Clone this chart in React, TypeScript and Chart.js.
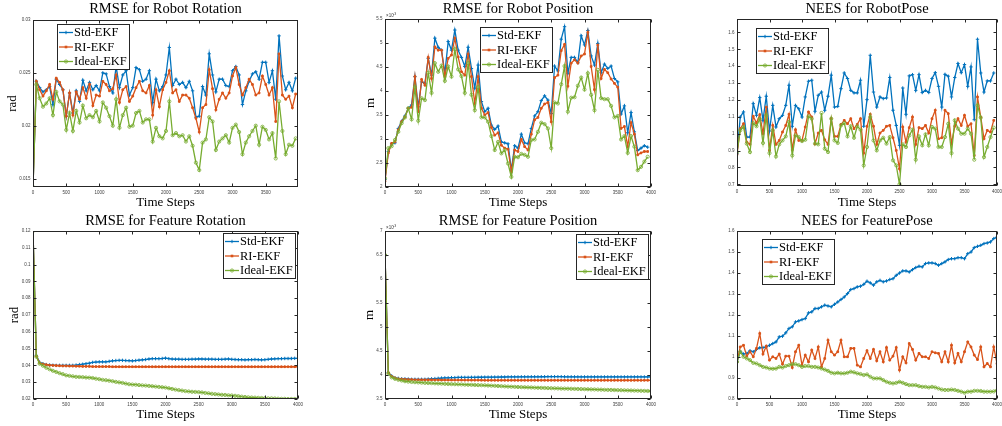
import React, { useEffect, useRef } from 'react';
import { Chart, registerables } from 'chart.js';

Chart.register(...registerables);

// ---------- data ----------
const STEPS = [
  0, 50, 100, 150, 200, 250, 300, 350, 400, 450,
  500, 550, 600, 650, 700, 750, 800, 850, 900, 950,
  1000, 1050, 1100, 1150, 1200, 1250, 1300, 1350, 1400, 1450,
  1500, 1550, 1600, 1650, 1700, 1750, 1800, 1850, 1900, 1950,
  2000, 2050, 2100, 2150, 2200, 2250, 2300, 2350, 2400, 2450,
  2500, 2550, 2600, 2650, 2700, 2750, 2800, 2850, 2900, 2950,
  3000, 3050, 3100, 3150, 3200, 3250, 3300, 3350, 3400, 3450,
  3500, 3550, 3600, 3650, 3700, 3750, 3800, 3850, 3900, 3950,
  4000,
];

const SERIES_NAMES = ['Std-EKF', 'RI-EKF', 'Ideal-EKF'];

const X_TICKS_3500 = [0, 500, 1000, 1500, 2000, 2500, 3000, 3500];
const X_TICKS_4000 = [0, 500, 1000, 1500, 2000, 2500, 3000, 3500, 4000];

const ROBOT_ROT_Y_TICKS = [0.015, 0.02, 0.025, 0.03];
const ROBOT_POS_Y_TICKS = [2, 2.5, 3, 3.5, 4, 4.5, 5, 5.5];
const ROBOT_NEES_Y_TICKS = [0.7, 0.8, 0.9, 1, 1.1, 1.2, 1.3, 1.4, 1.5, 1.6];
const FEAT_ROT_Y_TICKS = [0.02, 0.03, 0.04, 0.05, 0.06, 0.07, 0.08, 0.09, 0.1, 0.11, 0.12];
const FEAT_POS_Y_TICKS = [3.5, 4, 4.5, 5, 5.5, 6, 6.5, 7];
const FEAT_NEES_Y_TICKS = [0.8, 0.9, 1, 1.1, 1.2, 1.3, 1.4, 1.5, 1.6];

// RMSE for Robot Rotation (rad)
const ROBOT_ROT_STD = [
  0.0142, 0.0242, 0.0236, 0.0232, 0.0234, 0.0237, 0.0220, 0.0244, 0.0239, 0.0234,
  0.0209, 0.0231, 0.0212, 0.0233, 0.0223, 0.0243, 0.0233, 0.0241, 0.0234, 0.0238,
  0.0233, 0.0250, 0.0249, 0.0237, 0.0231, 0.0256, 0.0236, 0.0248, 0.0252, 0.0229,
  0.0236, 0.0255, 0.0253, 0.0242, 0.0244, 0.0252, 0.0222, 0.0244, 0.0233, 0.0237,
  0.0248, 0.0274, 0.0238, 0.0244, 0.0239, 0.0241, 0.0236, 0.0242, 0.0233, 0.0208,
  0.0209, 0.0237, 0.0229, 0.0268, 0.0248, 0.0232, 0.0244, 0.0244, 0.0238, 0.0237,
  0.0252, 0.0256, 0.0248, 0.0220, 0.0233, 0.0242, 0.0249, 0.0251, 0.0244, 0.0260,
  0.0260, 0.0241, 0.0252, 0.0225, 0.0285, 0.0247, 0.0234, 0.0241, 0.0233, 0.0245,
];
const ROBOT_ROT_RI = [
  0.0142, 0.0242, 0.0234, 0.0228, 0.0233, 0.0239, 0.0225, 0.0245, 0.0241, 0.0234,
  0.0209, 0.0231, 0.0210, 0.0232, 0.0225, 0.0236, 0.0226, 0.0239, 0.0219, 0.0229,
  0.0228, 0.0242, 0.0239, 0.0233, 0.0235, 0.0248, 0.0222, 0.0234, 0.0237, 0.0223,
  0.0228, 0.0236, 0.0242, 0.0233, 0.0231, 0.0238, 0.0210, 0.0234, 0.0218, 0.0234,
  0.0241, 0.0252, 0.0231, 0.0234, 0.0223, 0.0229, 0.0229, 0.0226, 0.0217, 0.0207,
  0.0194, 0.0217, 0.0220, 0.0253, 0.0235, 0.0215, 0.0225, 0.0231, 0.0226, 0.0231,
  0.0247, 0.0255, 0.0239, 0.0229, 0.0236, 0.0244, 0.0239, 0.0229, 0.0231, 0.0247,
  0.0239, 0.0229, 0.0236, 0.0204, 0.0268, 0.0229, 0.0225, 0.0228, 0.0217, 0.0230,
];
const ROBOT_ROT_IDEAL = [
  0.0142, 0.0239, 0.0226, 0.0218, 0.0221, 0.0226, 0.0210, 0.0232, 0.0223, 0.0220,
  0.0196, 0.0212, 0.0195, 0.0214, 0.0203, 0.0219, 0.0207, 0.0210, 0.0208, 0.0214,
  0.0204, 0.0222, 0.0217, 0.0209, 0.0200, 0.0225, 0.0198, 0.0210, 0.0217, 0.0199,
  0.0200, 0.0212, 0.0214, 0.0203, 0.0206, 0.0206, 0.0185, 0.0198, 0.0190, 0.0188,
  0.0195, 0.0223, 0.0191, 0.0193, 0.0190, 0.0191, 0.0185, 0.0190, 0.0181, 0.0165,
  0.0158, 0.0184, 0.0187, 0.0208, 0.0204, 0.0177, 0.0185, 0.0188, 0.0191, 0.0184,
  0.0198, 0.0201, 0.0194, 0.0173, 0.0184, 0.0190, 0.0195, 0.0200, 0.0182, 0.0199,
  0.0196, 0.0187, 0.0193, 0.0169, 0.0223, 0.0195, 0.0173, 0.0182, 0.0181, 0.0188,
];

// RMSE for Robot Position (x10^-3 m)
const ROBOT_POS_STD = [
  2.16, 2.74, 2.90, 2.92, 3.22, 3.37, 3.48, 3.64, 3.71, 4.30,
  3.67, 4.19, 4.16, 4.68, 4.33, 5.10, 4.91, 4.85, 4.37, 5.03,
  4.85, 5.27, 4.85, 4.70, 4.51, 4.91, 4.47, 4.06, 4.54, 3.78,
  3.57, 3.64, 3.29, 3.20, 3.27, 2.94, 2.92, 2.90, 2.35, 2.86,
  2.81, 3.10, 2.92, 2.90, 3.22, 3.48, 3.57, 3.80, 3.90, 3.81,
  3.53, 4.52, 4.42, 5.08, 5.34, 4.37, 4.70, 4.70, 4.59, 5.15,
  4.96, 5.26, 4.73, 4.54, 4.99, 4.38, 4.56, 4.47, 4.52, 4.26,
  4.19, 3.52, 3.69, 3.13, 3.55, 3.15, 2.76, 2.81, 2.86, 2.83,
];
const ROBOT_POS_RI = [
  2.12, 2.71, 2.91, 2.94, 3.19, 3.36, 3.46, 3.64, 3.66, 4.30,
  3.57, 4.24, 4.12, 4.70, 4.26, 4.92, 4.85, 4.85, 4.30, 4.68,
  4.75, 5.10, 4.71, 4.40, 4.33, 4.77, 4.30, 3.74, 4.30, 3.64,
  3.50, 3.55, 3.24, 3.08, 3.13, 2.87, 2.81, 2.79, 2.32, 2.77,
  2.74, 2.99, 2.84, 2.77, 3.10, 3.40, 3.45, 3.64, 3.73, 3.76,
  3.36, 4.28, 4.33, 4.84, 4.97, 4.10, 4.58, 4.65, 4.58, 4.73,
  4.77, 5.22, 4.51, 4.03, 4.96, 4.26, 4.45, 4.38, 4.25, 4.16,
  4.08, 3.22, 3.26, 2.84, 3.34, 3.10, 2.67, 2.71, 2.74, 2.74,
];
const ROBOT_POS_IDEAL = [
  2.18, 2.81, 2.85, 2.98, 3.15, 3.33, 3.45, 3.64, 3.41, 4.08,
  3.38, 3.85, 3.81, 4.38, 3.96, 4.58, 4.40, 4.53, 4.21, 4.51,
  4.30, 4.87, 4.45, 4.31, 3.96, 4.58, 3.92, 3.60, 4.08, 3.45,
  3.45, 3.36, 3.06, 2.77, 2.94, 2.70, 2.77, 2.49, 2.21, 2.63,
  2.62, 2.69, 2.67, 2.63, 2.98, 2.99, 3.15, 3.34, 3.31, 3.22,
  2.81, 3.76, 3.74, 4.14, 4.52, 3.57, 3.86, 3.87, 4.11, 4.28,
  4.03, 4.37, 3.92, 3.60, 4.44, 3.85, 3.83, 3.83, 3.69, 3.45,
  3.48, 2.99, 3.06, 2.71, 3.06, 2.84, 2.35, 2.42, 2.53, 2.63,
];

// NEES for RobotPose
const ROBOT_NEES_STD = [
  0.881, 1.099, 1.129, 0.980, 0.980, 1.178, 1.109, 1.214, 1.079, 1.222,
  1.016, 1.168, 1.040, 1.089, 1.109, 1.168, 1.287, 1.044, 1.168, 1.148,
  1.099, 1.218, 1.311, 1.317, 1.133, 1.228, 1.247, 1.139, 1.222, 1.347,
  1.158, 1.162, 1.267, 1.360, 1.327, 1.257, 1.242, 1.242, 1.317, 1.044,
  1.202, 1.465, 1.247, 1.158, 1.218, 1.208, 1.212, 1.333, 1.139, 1.049,
  0.931, 1.271, 1.115, 1.343, 1.350, 1.257, 1.350, 1.244, 1.257, 1.244,
  1.327, 1.362, 1.281, 1.158, 1.352, 1.341, 1.218, 1.333, 1.416, 1.362,
  1.410, 1.281, 1.396, 1.083, 1.560, 1.360, 1.247, 1.313, 1.313, 1.360,
];
const ROBOT_NEES_RI = [
  0.877, 1.030, 1.059, 0.950, 0.937, 1.103, 1.063, 1.113, 1.000, 1.158,
  0.901, 1.049, 0.937, 0.960, 1.010, 1.049, 1.115, 0.905, 1.024, 0.960,
  0.960, 1.040, 1.129, 1.099, 0.941, 1.004, 1.020, 0.964, 0.937, 1.089,
  0.984, 0.984, 1.055, 1.079, 1.059, 1.089, 1.030, 1.055, 1.089, 0.885,
  1.044, 1.115, 1.044, 0.937, 1.004, 1.020, 1.044, 1.049, 0.976, 0.901,
  0.792, 1.040, 0.950, 1.036, 1.099, 0.937, 1.036, 1.030, 1.049, 1.004,
  1.089, 1.139, 0.970, 0.976, 1.139, 1.119, 0.941, 1.044, 1.089, 1.049,
  1.109, 1.044, 1.059, 0.871, 1.218, 1.099, 0.970, 1.020, 1.010, 1.079,
];
const ROBOT_NEES_IDEAL = [
  0.891, 1.020, 1.040, 0.941, 0.891, 1.063, 1.044, 1.089, 0.945, 1.109,
  0.885, 1.020, 0.865, 0.937, 0.960, 0.984, 1.069, 0.871, 0.990, 0.980,
  0.956, 0.964, 1.103, 1.089, 0.941, 0.937, 1.123, 0.911, 0.891, 1.089,
  0.960, 0.945, 1.049, 1.063, 0.984, 1.044, 0.976, 1.044, 1.024, 0.812,
  0.921, 1.099, 0.960, 0.901, 0.960, 0.976, 0.941, 0.980, 0.842, 0.812,
  0.700, 0.937, 0.921, 0.990, 1.024, 0.846, 0.984, 0.931, 0.996, 0.931,
  1.040, 1.030, 0.921, 0.921, 0.980, 1.059, 0.885, 1.079, 1.030, 1.000,
  1.000, 1.030, 1.000, 0.846, 1.168, 1.095, 0.861, 0.921, 0.980, 1.036,
];

// RMSE for Feature Rotation (rad)
const FEAT_ROT_STD = [
  0.1200, 0.0460, 0.0418, 0.0410, 0.0405, 0.0402, 0.0401, 0.0400, 0.0400, 0.0400,
  0.0400, 0.0400, 0.0400, 0.0402, 0.0405, 0.0407, 0.0410, 0.0413, 0.0418, 0.0420,
  0.0421, 0.0421, 0.0421, 0.0424, 0.0427, 0.0429, 0.0430, 0.0430, 0.0429, 0.0428,
  0.0427, 0.0429, 0.0431, 0.0433, 0.0435, 0.0438, 0.0440, 0.0440, 0.0440, 0.0441,
  0.0443, 0.0440, 0.0438, 0.0437, 0.0437, 0.0436, 0.0436, 0.0436, 0.0437, 0.0437,
  0.0438, 0.0438, 0.0437, 0.0437, 0.0437, 0.0436, 0.0436, 0.0436, 0.0437, 0.0438,
  0.0436, 0.0435, 0.0434, 0.0434, 0.0433, 0.0434, 0.0434, 0.0435, 0.0434, 0.0433,
  0.0434, 0.0436, 0.0438, 0.0439, 0.0440, 0.0440, 0.0441, 0.0441, 0.0441, 0.0442,
  0.0442,
];
const FEAT_ROT_RI = [
  0.1200, 0.0455, 0.0415, 0.0408, 0.0404, 0.0401, 0.0400, 0.0399, 0.0398, 0.0397,
  0.0397, 0.0396, 0.0396, 0.0395, 0.0395, 0.0394, 0.0394, 0.0394, 0.0393, 0.0393,
  0.0393, 0.0393, 0.0393, 0.0393, 0.0392, 0.0392, 0.0392, 0.0392, 0.0392, 0.0392,
  0.0392, 0.0392, 0.0392, 0.0392, 0.0392, 0.0392, 0.0392, 0.0392, 0.0392, 0.0392,
  0.0392, 0.0392, 0.0392, 0.0392, 0.0392, 0.0392, 0.0392, 0.0392, 0.0392, 0.0392,
  0.0392, 0.0392, 0.0392, 0.0392, 0.0392, 0.0392, 0.0392, 0.0392, 0.0392, 0.0392,
  0.0392, 0.0392, 0.0392, 0.0392, 0.0392, 0.0392, 0.0392, 0.0392, 0.0392, 0.0392,
  0.0392, 0.0392, 0.0392, 0.0392, 0.0392, 0.0392, 0.0392, 0.0392, 0.0392, 0.0392,
  0.0392,
];
const FEAT_ROT_IDEAL = [
  0.1200, 0.0452, 0.0410, 0.0398, 0.0386, 0.0377, 0.0368, 0.0361, 0.0354, 0.0348,
  0.0341, 0.0338, 0.0335, 0.0332, 0.0331, 0.0330, 0.0328, 0.0327, 0.0325, 0.0321,
  0.0318, 0.0314, 0.0312, 0.0309, 0.0306, 0.0302, 0.0299, 0.0296, 0.0292, 0.0288,
  0.0286, 0.0285, 0.0283, 0.0281, 0.0280, 0.0278, 0.0276, 0.0274, 0.0272, 0.0270,
  0.0268, 0.0264, 0.0260, 0.0256, 0.0253, 0.0250, 0.0247, 0.0245, 0.0243, 0.0242,
  0.0241, 0.0239, 0.0236, 0.0234, 0.0231, 0.0229, 0.0227, 0.0225, 0.0224, 0.0222,
  0.0221, 0.0219, 0.0217, 0.0214, 0.0212, 0.0210, 0.0209, 0.0208, 0.0207, 0.0206,
  0.0205, 0.0204, 0.0204, 0.0203, 0.0202, 0.0201, 0.0201, 0.0200, 0.0200, 0.0200,
  0.0201,
];

// RMSE for Feature Position (x10^-3 m)
const FEAT_POS_STD = [
  6.50, 4.05, 3.98, 3.94, 3.93, 3.92, 3.92, 3.915, 3.91, 3.91,
  3.91, 3.91, 3.91, 3.915, 3.92, 3.925, 3.93, 3.935, 3.94, 3.94,
  3.945, 3.945, 3.95, 3.95, 3.95, 3.95, 3.952, 3.952, 3.953, 3.953,
  3.955, 3.955, 3.955, 3.957, 3.957, 3.958, 3.958, 3.96, 3.96, 3.96,
  3.96, 3.962, 3.962, 3.962, 3.963, 3.963, 3.963, 3.964, 3.964, 3.965,
  3.965, 3.965, 3.965, 3.965, 3.963, 3.962, 3.962, 3.961, 3.961, 3.96,
  3.96, 3.96, 3.96, 3.96, 3.96, 3.96, 3.96, 3.96, 3.96, 3.96,
  3.96, 3.96, 3.96, 3.96, 3.96, 3.96, 3.96, 3.96, 3.96, 3.96,
  3.96,
];
const FEAT_POS_RI = [
  6.50, 4.05, 3.97, 3.94, 3.92, 3.915, 3.91, 3.905, 3.905, 3.90,
  3.90, 3.90, 3.90, 3.90, 3.90, 3.898, 3.898, 3.896, 3.896, 3.895,
  3.895, 3.895, 3.894, 3.894, 3.893, 3.893, 3.892, 3.892, 3.892, 3.891,
  3.89, 3.89, 3.89, 3.89, 3.89, 3.89, 3.89, 3.89, 3.89, 3.89,
  3.89, 3.89, 3.89, 3.89, 3.89, 3.89, 3.89, 3.89, 3.89, 3.89,
  3.89, 3.89, 3.89, 3.89, 3.89, 3.89, 3.89, 3.89, 3.89, 3.89,
  3.89, 3.89, 3.89, 3.89, 3.89, 3.89, 3.89, 3.89, 3.89, 3.89,
  3.89, 3.89, 3.89, 3.89, 3.89, 3.89, 3.89, 3.89, 3.89, 3.89,
  3.89,
];
const FEAT_POS_IDEAL = [
  6.50, 4.03, 3.95, 3.92, 3.90, 3.885, 3.87, 3.862, 3.855, 3.85,
  3.845, 3.84, 3.836, 3.833, 3.83, 3.826, 3.823, 3.82, 3.816, 3.813,
  3.81, 3.808, 3.806, 3.803, 3.80, 3.797, 3.795, 3.792, 3.789, 3.787,
  3.785, 3.781, 3.778, 3.775, 3.771, 3.767, 3.763, 3.759, 3.756, 3.753,
  3.75, 3.747, 3.745, 3.742, 3.74, 3.737, 3.734, 3.732, 3.73, 3.727,
  3.725, 3.723, 3.72, 3.718, 3.717, 3.715, 3.713, 3.711, 3.709, 3.707,
  3.705, 3.703, 3.70, 3.699, 3.697, 3.695, 3.692, 3.69, 3.689, 3.687,
  3.685, 3.683, 3.681, 3.679, 3.677, 3.675, 3.673, 3.671, 3.669, 3.667,
  3.665,
];

// NEES for FeaturePose
const FEAT_NEES_STD = [
  0.977, 1.025, 1.014, 1.017, 1.030, 1.025, 1.036, 1.044, 1.045, 1.048,
  1.056, 1.064, 1.072, 1.096, 1.099, 1.115, 1.136, 1.144, 1.167, 1.172,
  1.178, 1.183, 1.210, 1.215, 1.231, 1.231, 1.239, 1.247, 1.243, 1.239,
  1.251, 1.262, 1.274, 1.286, 1.302, 1.321, 1.326, 1.334, 1.337, 1.346,
  1.361, 1.353, 1.342, 1.358, 1.365, 1.358, 1.362, 1.369, 1.373, 1.389,
  1.400, 1.410, 1.410, 1.405, 1.416, 1.426, 1.432, 1.429, 1.445, 1.448,
  1.448, 1.445, 1.437, 1.445, 1.453, 1.464, 1.468, 1.468, 1.473, 1.473,
  1.468, 1.492, 1.500, 1.521, 1.527, 1.532, 1.540, 1.543, 1.548, 1.564,
  1.571,
];
const FEAT_NEES_RI = [
  0.977, 1.048, 1.056, 1.004, 1.025, 1.001, 1.041, 1.112, 1.014, 1.052,
  0.985, 1.001, 0.993, 1.014, 0.966, 1.004, 1.004, 0.950, 1.025, 1.056,
  0.961, 1.009, 0.977, 1.033, 0.993, 1.048, 0.953, 0.993, 1.080, 1.025,
  1.009, 1.025, 1.080, 1.001, 1.001, 1.041, 1.041, 0.961, 0.953, 0.993,
  1.030, 0.993, 1.036, 0.982, 1.025, 0.977, 1.045, 0.985, 1.004, 1.045,
  0.938, 1.001, 0.972, 1.064, 1.036, 0.985, 1.017, 1.001, 1.001, 0.993,
  1.025, 1.020, 1.017, 0.977, 1.025, 0.977, 1.056, 0.972, 1.017, 0.977,
  1.025, 1.072, 1.048, 1.009, 0.988, 1.048, 0.953, 0.969, 0.953, 1.048,
  0.969,
];
const FEAT_NEES_IDEAL = [
  0.977, 1.025, 1.001, 0.993, 0.985, 0.972, 0.969, 0.961, 0.953, 0.950,
  0.945, 0.944, 0.945, 0.953, 0.950, 0.957, 0.961, 0.966, 0.966, 0.961,
  0.953, 0.957, 0.957, 0.953, 0.953, 0.950, 0.945, 0.940, 0.934, 0.925,
  0.922, 0.925, 0.922, 0.922, 0.925, 0.930, 0.927, 0.922, 0.919, 0.914,
  0.917, 0.906, 0.898, 0.898, 0.898, 0.890, 0.882, 0.877, 0.874, 0.877,
  0.882, 0.877, 0.871, 0.866, 0.866, 0.866, 0.861, 0.858, 0.858, 0.855,
  0.858, 0.855, 0.850, 0.845, 0.843, 0.843, 0.845, 0.843, 0.839, 0.835,
  0.830, 0.835, 0.835, 0.839, 0.839, 0.838, 0.835, 0.835, 0.835, 0.836,
  0.841,
];

// ---------- styles / layout ----------
const COLORS = ['#0072BD', '#D95319', '#77AC30'];
const SERIF = '"Liberation Serif", "Times New Roman", serif';
const SANS = '"Liberation Sans", Arial, sans-serif';

type Box = { left: number; top: number; width: number; height: number };
type Area = { left: number; top: number; right: number; bottom: number };
type Panel = {
  title: string;
  yLabel: string;
  exponent: boolean;
  series: number[][];
  yMin: number;
  yMax: number;
  xMax: number;
  xTicks: number[];
  yTicks: number[];
  box: Box;
  area: Area;
  titleY: number;
  xLabelY: number;
  yLabelX: number;
  legend: { x: number; y: number };
};

const PANELS: Panel[] = [
  {
    title: 'RMSE for Robot Rotation', yLabel: 'rad', exponent: false,
    series: [ROBOT_ROT_STD, ROBOT_ROT_RI, ROBOT_ROT_IDEAL],
    yMin: 0.0142, yMax: 0.03, xMax: 3985, xTicks: X_TICKS_3500, yTicks: ROBOT_ROT_Y_TICKS,
    box: { left: 0, top: 0, width: 330, height: 210 },
    area: { left: 33, top: 20, right: 298, bottom: 187 },
    titleY: 9.5, xLabelY: 202.5, yLabelX: 13, legend: { x: 57, y: 24 },
  },
  {
    title: 'RMSE for Robot Position', yLabel: 'm', exponent: true,
    series: [ROBOT_POS_STD, ROBOT_POS_RI, ROBOT_POS_IDEAL],
    yMin: 2, yMax: 5.5, xMax: 4000, xTicks: X_TICKS_4000, yTicks: ROBOT_POS_Y_TICKS,
    box: { left: 335, top: 0, width: 330, height: 210 },
    area: { left: 385, top: 19, right: 651, bottom: 187 },
    titleY: 9.5, xLabelY: 202.5, yLabelX: 370.5, legend: { x: 480, y: 27 },
  },
  {
    title: 'NEES for RobotPose', yLabel: '', exponent: false,
    series: [ROBOT_NEES_STD, ROBOT_NEES_RI, ROBOT_NEES_IDEAL],
    yMin: 0.69, yMax: 1.68, xMax: 4000, xTicks: X_TICKS_4000, yTicks: ROBOT_NEES_Y_TICKS,
    box: { left: 670, top: 0, width: 332, height: 210 },
    area: { left: 737, top: 19, right: 1001, bottom: 186 },
    titleY: 9.5, xLabelY: 202.5, yLabelX: 0, legend: { x: 756, y: 28 },
  },
  {
    title: 'RMSE for Feature Rotation', yLabel: 'rad', exponent: false,
    series: [FEAT_ROT_STD, FEAT_ROT_RI, FEAT_ROT_IDEAL],
    yMin: 0.02, yMax: 0.12, xMax: 4000, xTicks: X_TICKS_4000, yTicks: FEAT_ROT_Y_TICKS,
    box: { left: 0, top: 210, width: 330, height: 216 },
    area: { left: 33, top: 231, right: 298, bottom: 399 },
    titleY: 221.5, xLabelY: 415, yLabelX: 15, legend: { x: 223, y: 233 },
  },
  {
    title: 'RMSE for Feature Position', yLabel: 'm', exponent: true,
    series: [FEAT_POS_STD, FEAT_POS_RI, FEAT_POS_IDEAL],
    yMin: 3.5, yMax: 7, xMax: 4000, xTicks: X_TICKS_4000, yTicks: FEAT_POS_Y_TICKS,
    box: { left: 335, top: 210, width: 330, height: 216 },
    area: { left: 385, top: 231, right: 651, bottom: 399 },
    titleY: 221.5, xLabelY: 415, yLabelX: 370, legend: { x: 576, y: 234 },
  },
  {
    title: 'NEES for FeaturePose', yLabel: '', exponent: false,
    series: [FEAT_NEES_STD, FEAT_NEES_RI, FEAT_NEES_IDEAL],
    yMin: 0.8, yMax: 1.6, xMax: 4000, xTicks: X_TICKS_4000, yTicks: FEAT_NEES_Y_TICKS,
    box: { left: 670, top: 210, width: 332, height: 216 },
    area: { left: 737, top: 231, right: 1001, bottom: 399 },
    titleY: 221.5, xLabelY: 415, yLabelX: 0, legend: { x: 762, y: 239 },
  },
];

function drawMarker(ctx: CanvasRenderingContext2D, kind: number, x: number, y: number, color: string) {
  ctx.save();
  ctx.strokeStyle = color;
  ctx.fillStyle = color;
  if (kind === 0) {
    ctx.lineWidth = 1;
    ctx.beginPath();
    ctx.moveTo(x - 1.7, y); ctx.lineTo(x + 1.7, y);
    ctx.moveTo(x, y - 1.7); ctx.lineTo(x, y + 1.7);
    ctx.stroke();
  } else if (kind === 1) {
    ctx.fillRect(x - 1.3, y - 1.3, 2.6, 2.6);
  } else {
    ctx.lineWidth = 0.8;
    ctx.beginPath();
    ctx.arc(x, y, 1.6, 0, Math.PI * 2);
    ctx.stroke();
  }
  ctx.restore();
}

const framePlugin = {
  id: 'matlabFrame',
  afterDraw(chart: any, _args: any, opts: any) {
    const p: Panel = opts.panel;
    if (!p) return;
    const ctx: CanvasRenderingContext2D = chart.ctx;
    const a = chart.chartArea;
    const ox = p.box.left;
    const oy = p.box.top;
    const xs = chart.scales.x;
    const ys = chart.scales.y;
    ctx.save();

    // box + inward ticks
    const L = Math.round(a.left) + 0.5;
    const R = Math.round(a.right) - 0.5;
    const T = Math.round(a.top) + 0.5;
    const B = Math.round(a.bottom) - 0.5;
    ctx.strokeStyle = '#262626';
    ctx.lineWidth = 1;
    ctx.strokeRect(L, T, R - L, B - T);
    ctx.beginPath();
    for (const v of p.xTicks) {
      const px = Math.round(xs.getPixelForValue(v)) + 0.5;
      ctx.moveTo(px, B); ctx.lineTo(px, B - 3);
      ctx.moveTo(px, T); ctx.lineTo(px, T + 3);
    }
    for (const v of p.yTicks) {
      const py = Math.round(ys.getPixelForValue(v)) + 0.5;
      ctx.moveTo(L, py); ctx.lineTo(L + 3, py);
      ctx.moveTo(R, py); ctx.lineTo(R - 3, py);
    }
    ctx.stroke();

    // titles
    ctx.fillStyle = '#000';
    ctx.textAlign = 'center';
    ctx.textBaseline = 'middle';
    ctx.font = `14.5px ${SERIF}`;
    ctx.fillText(p.title, (a.left + a.right) / 2, p.titleY - oy);
    ctx.font = `13px ${SERIF}`;
    ctx.fillText('Time Steps', (a.left + a.right) / 2, p.xLabelY - oy);
    if (p.yLabel) {
      ctx.save();
      ctx.translate(p.yLabelX - ox, (a.top + a.bottom) / 2);
      ctx.rotate(-Math.PI / 2);
      ctx.fillText(p.yLabel, 0, 0);
      ctx.restore();
    }
    if (p.exponent) {
      ctx.fillStyle = '#404040';
      ctx.textAlign = 'left';
      ctx.textBaseline = 'alphabetic';
      ctx.font = `4.5px ${SANS}`;
      ctx.fillText('\u00d710', a.left + 1, a.top - 2.5);
      ctx.font = `3.5px ${SANS}`;
      ctx.fillText('-3', a.left + 8, a.top - 4.5);
    }

    // legend
    const lx = p.legend.x - ox;
    const ly = p.legend.y - oy;
    const lw = 72;
    const lh = 45;
    ctx.fillStyle = '#fff';
    ctx.fillRect(lx, ly, lw, lh);
    ctx.strokeStyle = '#262626';
    ctx.lineWidth = 1;
    ctx.strokeRect(lx + 0.5, ly + 0.5, lw, lh);
    ctx.font = `12.5px ${SERIF}`;
    ctx.textAlign = 'left';
    ctx.textBaseline = 'middle';
    for (let i = 0; i < 3; i++) {
      const ry = ly + 8.5 + i * 14.5;
      ctx.strokeStyle = COLORS[i];
      ctx.lineWidth = 1.3;
      ctx.beginPath();
      ctx.moveTo(lx + 2, ry);
      ctx.lineTo(lx + 16, ry);
      ctx.stroke();
      drawMarker(ctx, i, lx + 9, ry, COLORS[i]);
      ctx.fillStyle = '#000';
      ctx.fillText(SERIES_NAMES[i], lx + 17, ry + 0.5);
    }
    ctx.restore();
  },
};

function fmt(v: number): string {
  return String(Number(v.toFixed(4)));
}

function PanelChart({ p }: { p: Panel }) {
  const ref = useRef<HTMLCanvasElement | null>(null);
  useEffect(() => {
    if (!ref.current) return;
    const yW = p.area.left - p.box.left;
    const xH = p.box.top + p.box.height - p.area.bottom;
    const padTop = p.area.top - p.box.top;
    const padRight = p.box.left + p.box.width - p.area.right;
    const pointStyles = ['cross', 'rect', 'circle'];
    const radii = [1.7, 1.2, 1.6];
    const datasets = p.series.map((vals, i) => ({
      label: SERIES_NAMES[i],
      data: vals.map((v, j) => ({ x: STEPS[j], y: v })),
      borderColor: COLORS[i],
      backgroundColor: COLORS[i],
      borderWidth: 1.3,
      pointStyle: pointStyles[i],
      pointRadius: radii[i],
      pointBorderWidth: i === 2 ? 0.8 : 1,
      pointBorderColor: COLORS[i],
      pointBackgroundColor: i === 2 ? 'rgba(0,0,0,0)' : COLORS[i],
      tension: 0,
      fill: false,
      order: 2 - i,
    }));
    const tickFont = { family: SANS, size: 4.5 };
    const chart = new Chart(ref.current, {
      type: 'line',
      data: { datasets } as any,
      options: {
        animation: false,
        responsive: false,
        maintainAspectRatio: false,
        devicePixelRatio: 1,
        events: [],
        layout: { padding: { left: 0, top: padTop, right: padRight, bottom: 0 } },
        plugins: {
          legend: { display: false },
          title: { display: false },
          tooltip: { enabled: false },
          matlabFrame: { panel: p },
        } as any,
        scales: {
          x: {
            type: 'linear',
            min: 0,
            max: p.xMax,
            grid: { display: false, drawTicks: false },
            border: { display: false },
            ticks: { font: tickFont, color: '#404040', padding: 3, autoSkip: false, maxRotation: 0, callback: (v: any) => fmt(Number(v)) },
            afterBuildTicks: (s: any) => { s.ticks = p.xTicks.map((v) => ({ value: v })); },
            afterFit: (s: any) => { s.height = xH; s.paddingLeft = 0; s.paddingRight = 0; },
          },
          y: {
            type: 'linear',
            min: p.yMin,
            max: p.yMax,
            grid: { display: false, drawTicks: false },
            border: { display: false },
            ticks: { font: tickFont, color: '#404040', padding: 2.5, autoSkip: false, callback: (v: any) => fmt(Number(v)) },
            afterBuildTicks: (s: any) => { s.ticks = p.yTicks.map((v) => ({ value: v })); },
            afterFit: (s: any) => { s.width = yW; s.paddingTop = 0; s.paddingBottom = 0; },
          },
        },
      } as any,
      plugins: [framePlugin],
    });
    return () => chart.destroy();
  }, [p]);
  return (
    <canvas
      ref={ref}
      width={p.box.width}
      height={p.box.height}
      style={{ position: 'absolute', left: p.box.left, top: p.box.top, width: p.box.width, height: p.box.height }}
    />
  );
}

export default function App() {
  return (
    <div style={{ position: 'absolute', left: 0, top: 0, width: 1002, height: 426, background: '#fff', overflow: 'hidden' }}>
      {PANELS.map((p) => (
        <PanelChart key={p.title} p={p} />
      ))}
    </div>
  );
}
